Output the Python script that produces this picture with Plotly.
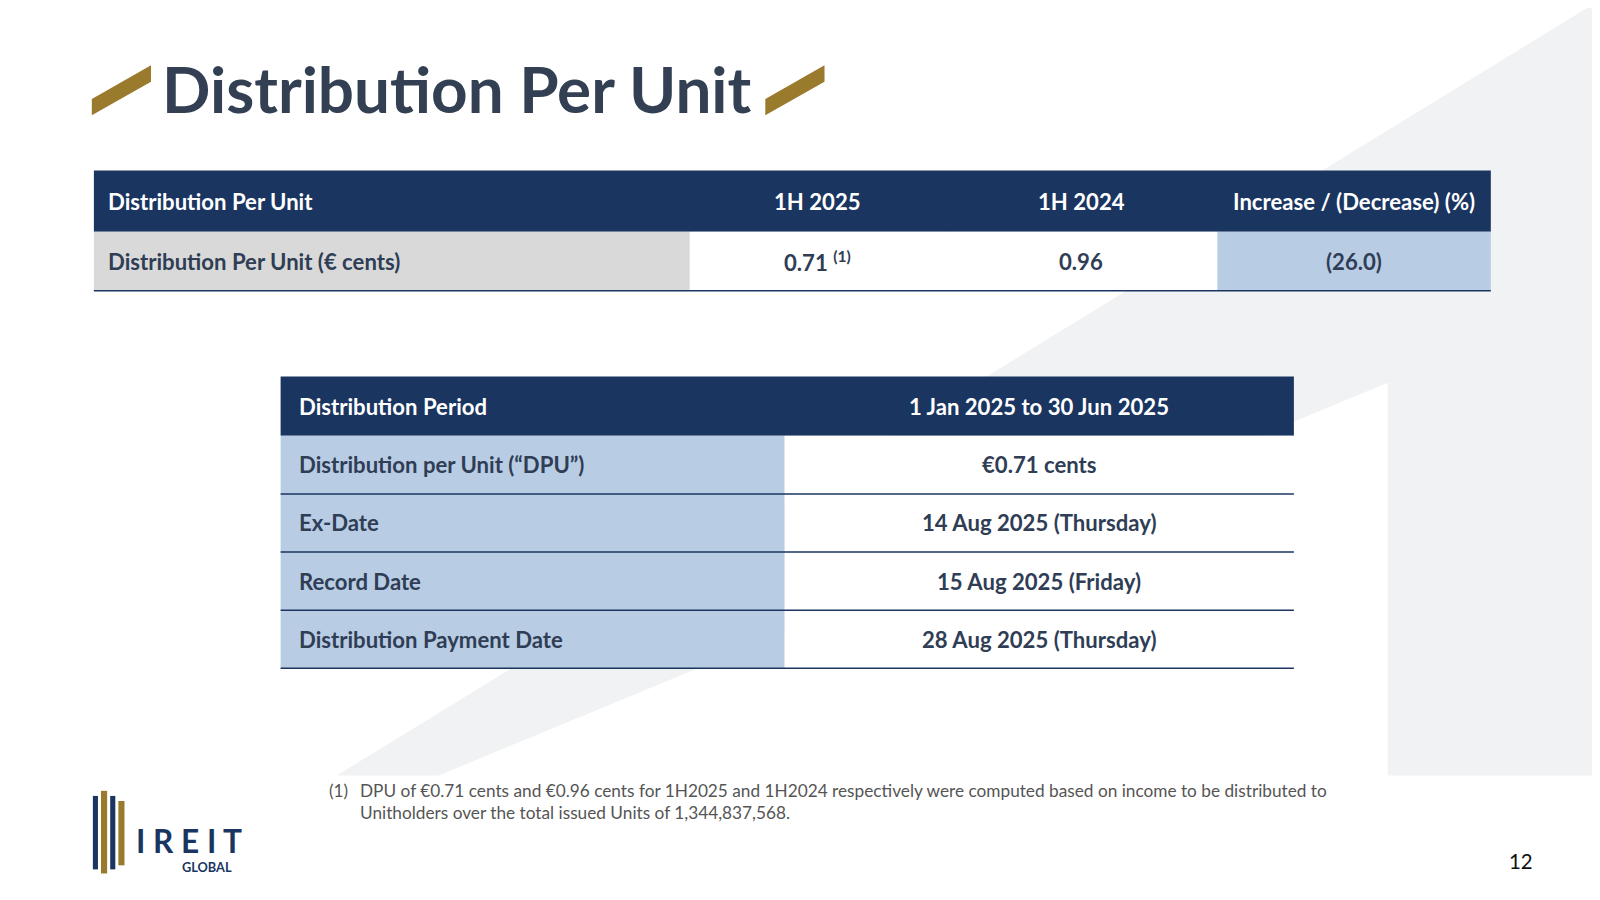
import plotly.graph_objects as go

W, H = 1600, 900

# table 1
T1_HEADER = ["Distribution Per Unit", "1H 2025", "1H 2024", "Increase / (Decrease) (%)"]
T1_ROW = ["Distribution Per Unit (€ cents)", "0.71 <sup>(1)</sup>", "0.96", "(26.0)"]

# table 2
T2_HEADER = ["Distribution Period", "1 Jan 2025 to 30 Jun 2025"]
T2_LABELS = ["Distribution per Unit (“DPU”)", "Ex-Date", "Record Date", "Distribution Payment Date"]
T2_VALUES = ["€0.71 cents", "14 Aug 2025 (Thursday)", "15 Aug 2025 (Friday)", "28 Aug 2025 (Thursday)"]

FOOTNOTE = ("DPU of €0.71 cents and €0.96 cents for 1H2025 and 1H2024 respectively were computed based on income to be distributed to<br>"
            "Unitholders over the total issued Units of 1,344,837,568.")

NAVY = "#1a355f"
TEXT = "#2f3d55"
LIGHT = "#b8cce4"
GREY = "#d9d9d9"
GOLD = "#9a7a2c"
FONT = "Lato"

# layout measured on a 1568-wide view of the slide
S = 1600 / 1568
OFF = 8  # page body margin

shapes = []
annotations = []


def px(v):
    return v * S


def rect(x0, y0, x1, y1, fill):
    shapes.append(dict(type="rect", x0=px(x0), x1=px(x1), y0=px(y0), y1=px(y1),
                       fillcolor=fill, line_width=0, layer="below"))


def hline(x0, x1, y, color=NAVY, width=1.5):
    shapes.append(dict(type="line", x0=px(x0), x1=px(x1), y0=px(y), y1=px(y),
                       line=dict(color=color, width=width)))


def text(x, y, s, anchor="center", size=21.7, color=TEXT, bold=True):
    annotations.append(dict(x=px(x), y=px(y), text=f"<b>{s}</b>" if bold else s,
                            showarrow=False, xanchor=anchor, yanchor="middle",
                            font=dict(family=FONT, size=size * S, color=color)))


def draw_table(edges, rows_y, header, rows, fills, pad):
    rect(edges[0], rows_y[0], edges[-1], rows_y[1], NAVY)
    cy = (rows_y[0] + rows_y[1]) / 2
    for j, h in enumerate(header):
        if j == 0:
            text(edges[0] + pad, cy, h, "left", color="white")
        else:
            text((edges[j] + edges[j + 1]) / 2, cy, h, color="white")
    for i, row in enumerate(rows):
        y0, y1 = rows_y[i + 1], rows_y[i + 2]
        cy = (y0 + y1) / 2
        for j, v in enumerate(row):
            rect(edges[j], y0, edges[j + 1], y1, fills[j])
            if j == 0:
                text(edges[0] + pad, cy, v, "left")
            else:
                text((edges[j] + edges[j + 1]) / 2, cy, v)
        hline(edges[0], edges[-1], y1)


fig = go.Figure(go.Scatter(x=[OFF, W], y=[OFF, H], mode="markers", marker=dict(opacity=0),
                           hoverinfo="skip"))

# background slanted shape
shapes.append(dict(type="path",
                   path=f"M {px(1568)} 0 L {px(1568)} {px(760)} L {px(1360)} {px(760)} "
                        f"L {px(1360)} {px(375)} L {px(430)} {px(760)} L {px(330)} {px(760)} Z",
                   fillcolor="#f1f2f4", line_width=0, layer="below"))

draw_table([92, 676, 926, 1193, 1461], [167, 227, 285], T1_HEADER, [T1_ROW],
           [GREY, "white", "white", LIGHT], 12)
draw_table([275, 769, 1268], [369, 427, 484, 541, 598, 655], T2_HEADER,
           list(zip(T2_LABELS, T2_VALUES)), [LIGHT, "white"], 16)

# title with slashes
for x in (90, 750):
    shapes.append(dict(type="path",
                       path=f"M {px(x)} {px(97)} L {px(x + 58)} {px(64)} L {px(x + 58)} {px(80)} "
                            f"L {px(x)} {px(113)} Z",
                       fillcolor=GOLD, line_width=0))
text(157, 87, "Distribution Per Unit", "left", size=62.5, color="#333f52")

# footnote and page number
text(320, 775, "(1)", "left", size=16.8, color="#555", bold=False)
annotations.append(dict(x=px(351), y=px(785), text=FOOTNOTE, showarrow=False, xanchor="left",
                        yanchor="middle", align="left",
                        font=dict(family=FONT, size=16.9 * S, color="#555")))
text(1504, 844, "12", "right", size=20, color="#111", bold=False)

# logo
for x0, x1, y0, y1, c in [(91, 96, 780, 852, NAVY), (99, 105, 775, 856, GOLD),
                          (108, 113, 780, 852, NAVY), (116, 122, 785, 848, GOLD)]:
    shapes.append(dict(type="rect", x0=px(x0), x1=px(x1), y0=px(y0), y1=px(y1),
                       fillcolor=c, line_width=0))
text(131, 824, "I R E I T", "left", size=31, color=NAVY)
text(229, 850, "GLOBAL", "right", size=12.5, color=NAVY)

fig.update_layout(
    width=W, height=H, margin=dict(l=0, r=0, t=0, b=0),
    paper_bgcolor="white", plot_bgcolor="white",
    xaxis=dict(range=[OFF, W + OFF], visible=False, fixedrange=True),
    yaxis=dict(range=[H + OFF, OFF], visible=False, fixedrange=True),
    shapes=shapes, annotations=annotations, showlegend=False,
)

fig.write_html("out.html")
